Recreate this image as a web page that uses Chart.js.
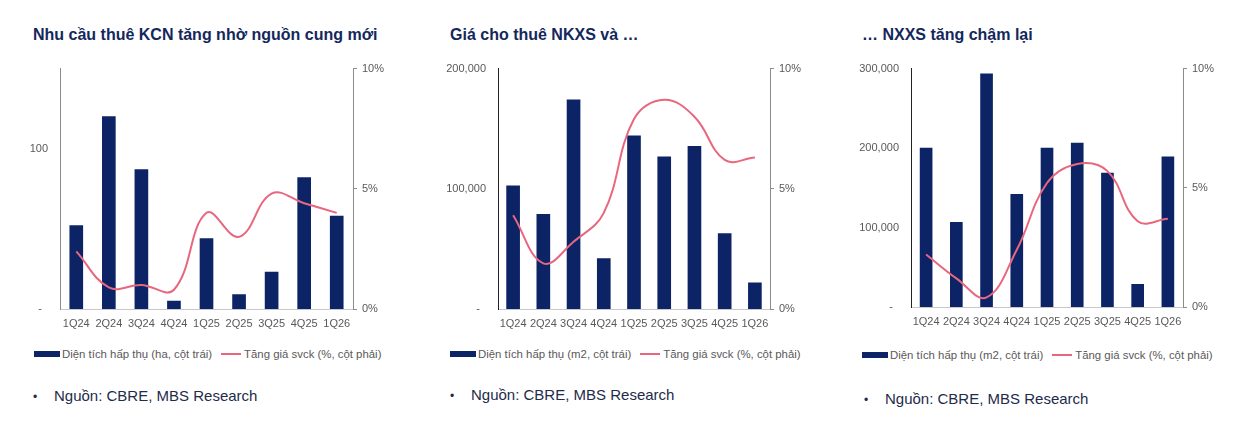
<!DOCTYPE html>
<html>
<head>
<meta charset="utf-8">
<script src="https://cdn.jsdelivr.net/npm/chart.js@4"></script>
<style>
  html, body { margin:0; padding:0; background:#fff; }
  body { width:1238px; height:426px; position:relative; overflow:hidden; font-family:"Liberation Sans", Arial, sans-serif; }
  .title { position:absolute; top:26px; font-weight:bold; font-size:16px; color:#14275c; white-space:nowrap; }
  .cv { position:absolute; top:50px; width:410px; height:290px; }
  .legend { position:absolute; font-size:11.4px; color:#595959; white-space:nowrap; display:flex; align-items:center; }
  .sw-bar { display:inline-block; width:26px; height:6px; background:#0c2366; margin-right:2px; }
  .sw-line { display:inline-block; width:20px; height:2px; background:#e8677e; margin:0 3px 0 9px; }
  .src { position:absolute; font-size:15px; color:#1e2b4a; white-space:nowrap; }
  .src .b { display:inline-block; width:21px; font-size:12px; }
</style>
</head>
<body>
<div class="title" style="left:33px">Nhu cầu thuê KCN tăng nhờ nguồn cung mới</div>
<div class="title" style="left:450px">Giá cho thuê NKXS và …</div>
<div class="title" style="left:862px">… NXXS tăng chậm lại</div>

<div class="cv" style="left:0px"><canvas id="c1"></canvas></div>
<div class="cv" style="left:410px"><canvas id="c2"></canvas></div>
<div class="cv" style="left:828px"><canvas id="c3"></canvas></div>

<div class="legend" style="left:34px; top:348px"><span class="sw-bar"></span>Diện tích hấp thụ (ha, cột trái)<span class="sw-line"></span>Tăng giá svck (%, cột phải)</div>
<div class="legend" style="left:450px; top:348px"><span class="sw-bar"></span>Diện tích hấp thụ (m2, cột trái)<span class="sw-line"></span>Tăng giá svck (%, cột phải)</div>
<div class="legend" style="left:862px; top:349px"><span class="sw-bar"></span>Diện tích hấp thụ (m2, cột trái)<span class="sw-line"></span>Tăng giá svck (%, cột phải)</div>

<div class="src" style="left:33px; top:387px"><span class="b">•</span>Nguồn: CBRE, MBS Research</div>
<div class="src" style="left:450px; top:386px"><span class="b">•</span>Nguồn: CBRE, MBS Research</div>
<div class="src" style="left:864px; top:390px"><span class="b">•</span>Nguồn: CBRE, MBS Research</div>

<script>
const categories = ["1Q24","2Q24","3Q24","4Q24","1Q25","2Q25","3Q25","4Q25","1Q26"];

// Chart 1: Industrial park land (ha) and yoy price growth (%)
const kcnAbsorption = [52, 120, 87, 5, 44, 9, 23, 82, 58];
const kcnGrowth = [2.4, 0.9, 1.0, 0.8, 4.0, 3.0, 4.8, 4.4, 4.0];

// Chart 2: Ready-built factory (m2) and yoy price growth (%)
const nkxsAbsorption = [102500, 78800, 174000, 42000, 144000, 126500, 135300, 62800, 21800];
const nkxsGrowth = [3.9, 1.9, 2.8, 4.0, 7.9, 8.7, 8.0, 6.2, 6.3];

// Chart 3: Ready-built warehouse (m2) and yoy price growth (%)
const nxxsAbsorption = [200000, 106700, 293300, 141800, 200000, 206300, 168600, 28500, 189100];
const nxxsGrowth = [2.2, 1.2, 0.4, 2.4, 5.2, 6.0, 5.7, 3.6, 3.7];

const leftTicks1 = { min: 0, max: 150, step: 100 };
const leftTicks2 = { min: 0, max: 200000, step: 100000 };
const leftTicks3 = { min: 0, max: 300000, step: 100000 };
const rightTicks = { min: 0, max: 10, step: 5 };

const BAR = '#0c2366';
const LINE = '#e8677e';
const TXT = '#595959';
const FONT = { family: '"Liberation Sans", Arial, sans-serif', size: 11 };

function fmtLeft(v, max) {
  if (v === 0) return '-  ';
  if (v === max && max === 150) return '';
  return v.toLocaleString('en-US');
}

function makeChart(id, bars, line, left, geo) {
  new Chart(document.getElementById(id), {
    data: {
      labels: categories,
      datasets: [
        { type: 'line', data: line, yAxisID: 'y1', borderColor: LINE, borderWidth: 2,
          pointRadius: 0, tension: 0.4, order: 0 },
        { type: 'bar', data: bars, yAxisID: 'y', backgroundColor: BAR,
          barThickness: geo.barW, order: 1 }
      ]
    },
    options: {
      responsive: true, maintainAspectRatio: false, animation: false,
      layout: { padding: { top: geo.top, left: 0, right: 0, bottom: 0 } },
      plugins: { legend: { display: false }, tooltip: { enabled: false } },
      scales: {
        x: {
          grid: { display: false, drawTicks: false },
          border: { color: '#c8c8c8', width: 1 },
          ticks: { color: TXT, font: FONT, padding: 8, maxRotation: 0, autoSkip: false },
          afterFit: s => { s.height = geo.xh; }
        },
        y: {
          position: 'left', min: left.min, max: left.max,
          grid: { display: false, drawTicks: false },
          border: { color: geo.leftColor, width: 1 },
          ticks: { stepSize: left.step, color: TXT, font: FONT, padding: 12,
                   callback: v => fmtLeft(v, left.max) },
          afterFit: s => { s.width = geo.lw; }
        },
        y1: {
          position: 'right', min: rightTicks.min, max: rightTicks.max,
          grid: { drawOnChartArea: false, drawTicks: true, tickLength: 4, color: '#8c8c8c' },
          border: { color: '#8c8c8c', width: 1 },
          ticks: { stepSize: rightTicks.step, color: TXT, font: FONT, padding: 5,
                   callback: v => v + '%' },
          afterFit: s => { s.width = geo.rw; }
        }
      }
    }
  });
}

makeChart('c1', kcnAbsorption, kcnGrowth, leftTicks1,
  { top: 17, xh: 31, lw: 60, rw: 57, barW: 13, leftColor: '#8c8c8c' });
makeChart('c2', nkxsAbsorption, nkxsGrowth, leftTicks2,
  { top: 17, xh: 31, lw: 88, rw: 50, barW: 13, leftColor: '#222222' });
makeChart('c3', nxxsAbsorption, nxxsGrowth, leftTicks3,
  { top: 17, xh: 33, lw: 83, rw: 55, barW: 12, leftColor: '#222222' });
</script>
</body>
</html>
